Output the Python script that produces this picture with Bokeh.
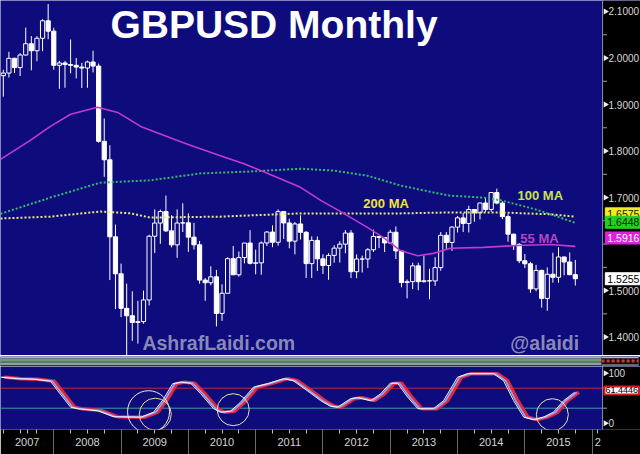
import math
import pandas as pd
from bokeh.plotting import figure
from bokeh.layouts import column
from bokeh.models import (ColumnDataSource, Range1d, FixedTicker, NumeralTickFormatter, Label,
                          Span, BoxAnnotation)
from bokeh.transform import dodge
from bokeh.embed import file_html
from bokeh.resources import INLINE

# ---------------- data (monthly GBPUSD candles, Mar 2007 .. Sep 2015) ----------------
first_month = "2007-03"
opens = [1.9620, 1.9676, 1.9993, 1.9794, 2.0064, 2.0307, 2.0156, 2.0424, 2.0800, 2.0577,
         1.9843, 1.9893, 1.9859, 1.9843, 1.9805, 1.9784, 1.9914, 1.9826, 1.8209, 1.7812, 1.6156, 1.5361,
         1.4619, 1.4459, 1.4315, 1.4333, 1.4799, 1.6169, 1.6452, 1.6700, 1.6284, 1.5983, 1.6453, 1.6457,
         1.6149, 1.5984, 1.5226, 1.5169, 1.5296, 1.4510, 1.4943, 1.5687, 1.5340, 1.5710, 1.6022, 1.5587,
         1.5597, 1.6024, 1.6259, 1.6039, 1.6698, 1.6454, 1.6063, 1.6433, 1.6253, 1.5580, 1.6079, 1.5683,
         1.5540, 1.5757, 1.5913, 1.5999, 1.6237, 1.5406, 1.5679, 1.5679, 1.5878, 1.6164, 1.6143, 1.6024,
         1.6255, 1.5853, 1.5173, 1.5192, 1.5532, 1.5193, 1.5212, 1.5208, 1.5494, 1.6189, 1.6034, 1.6365,
         1.6563, 1.6444, 1.6744, 1.6673, 1.6883, 1.6745, 1.7108, 1.6881, 1.6590, 1.6213, 1.5995, 1.5642,
         1.5577, 1.5037, 1.5434, 1.4832, 1.5351, 1.5286, 1.5723, 1.5615, 1.5343]
highs = [1.9748, 2.0133, 2.0006, 2.0105, 2.0654, 2.0470, 2.0470, 2.0835, 2.1161, 2.0650,
         1.9940, 1.9937, 2.0397, 2.0000, 1.9895, 1.9943, 2.0157, 1.9880, 1.8700, 1.8125, 1.6420, 1.5580,
         1.5150, 1.4985, 1.4780, 1.5000, 1.6200, 1.6745, 1.6742, 1.7043, 1.6620, 1.6745, 1.6877, 1.6661,
         1.6458, 1.6067, 1.5270, 1.5523, 1.5445, 1.5136, 1.5714, 1.5960, 1.5840, 1.6020, 1.6300, 1.5880,
         1.6060, 1.6278, 1.6402, 1.6746, 1.6700, 1.6546, 1.6474, 1.6618, 1.6280, 1.6166, 1.6163, 1.5779,
         1.5805, 1.5975, 1.6060, 1.6300, 1.6300, 1.5778, 1.5752, 1.5913, 1.6310, 1.6173, 1.6150, 1.6308,
         1.6380, 1.5872, 1.5238, 1.5600, 1.5600, 1.5751, 1.5467, 1.5717, 1.6260, 1.6260, 1.6384, 1.6603,
         1.6668, 1.6823, 1.6750, 1.6885, 1.6996, 1.7112, 1.7192, 1.6920, 1.6640, 1.6226, 1.6020, 1.5786,
         1.5620, 1.5552, 1.5450, 1.5498, 1.5815, 1.5930, 1.5730, 1.5820, 1.5659]
lows = [1.9169, 1.9580, 1.9676, 1.9614, 2.0054, 1.9735, 1.9930, 2.0148, 2.0405, 1.9746,
        1.9338, 1.9360, 1.9672, 1.9560, 1.9354, 1.9361, 1.9690, 1.8180, 1.7445, 1.5226, 1.4600, 1.4430,
        1.3503, 1.3920, 1.3860, 1.4290, 1.4680, 1.5806, 1.6005, 1.6260, 1.5930, 1.5705, 1.6260, 1.5833,
        1.5883, 1.5150, 1.4780, 1.5114, 1.4230, 1.4349, 1.4940, 1.5345, 1.5300, 1.5586, 1.5563, 1.5350,
        1.5340, 1.5960, 1.5933, 1.5966, 1.6111, 1.5910, 1.5780, 1.6099, 1.5271, 1.5273, 1.5421, 1.5358,
        1.5233, 1.5600, 1.5604, 1.5804, 1.5269, 1.5267, 1.5390, 1.5487, 1.5830, 1.5913, 1.5828, 1.6000,
        1.5680, 1.5071, 1.4832, 1.5032, 1.5007, 1.5172, 1.4814, 1.5102, 1.5427, 1.5895, 1.5856, 1.6250,
        1.6258, 1.6250, 1.6480, 1.6530, 1.6692, 1.6694, 1.6855, 1.6535, 1.6052, 1.5875, 1.5591, 1.5486,
        1.4952, 1.4986, 1.4634, 1.4566, 1.5170, 1.5170, 1.5330, 1.5330, 1.5108]
closes = [1.9676, 1.9993, 1.9794, 2.0064, 2.0307, 2.0156, 2.0424, 2.0800, 2.0577, 1.9843,
          1.9893, 1.9859, 1.9843, 1.9805, 1.9784, 1.9914, 1.9826, 1.8209, 1.7812, 1.6156, 1.5361, 1.4619,
          1.4459, 1.4315, 1.4333, 1.4799, 1.6169, 1.6452, 1.6700, 1.6284, 1.5983, 1.6453, 1.6457, 1.6149,
          1.5984, 1.5226, 1.5169, 1.5296, 1.4510, 1.4943, 1.5687, 1.5340, 1.5710, 1.6022, 1.5587, 1.5597,
          1.6024, 1.6259, 1.6039, 1.6698, 1.6454, 1.6063, 1.6433, 1.6253, 1.5580, 1.6079, 1.5683, 1.5540,
          1.5757, 1.5913, 1.5999, 1.6237, 1.5406, 1.5679, 1.5679, 1.5878, 1.6164, 1.6143, 1.6024, 1.6255,
          1.5853, 1.5173, 1.5192, 1.5532, 1.5193, 1.5212, 1.5208, 1.5494, 1.6189, 1.6034, 1.6365, 1.6563,
          1.6444, 1.6744, 1.6673, 1.6883, 1.6745, 1.7108, 1.6881, 1.6590, 1.6213, 1.5995, 1.5642, 1.5577,
          1.5037, 1.5434, 1.4832, 1.5351, 1.5286, 1.5723, 1.5615, 1.5343, 1.5255]

# moving averages (x in months since Jan 2007)
ma55_t = [2.5, 7.8, 11.4, 15.0, 19.8, 23.4, 27.5, 35.1, 41.7, 45.8, 48.9, 56.0, 59.6, 63.7, 67.9,
          70.8, 73.8, 76.9, 79.7, 82.7, 88.6, 94.7, 100.6, 105.0]
ma55_v = [1.782, 1.823, 1.853, 1.879, 1.894, 1.883, 1.853, 1.818, 1.790, 1.773, 1.758, 1.722, 1.694,
          1.666, 1.636, 1.614, 1.586, 1.575, 1.580, 1.591, 1.593, 1.597, 1.599, 1.595]
ma100_t = [2.5, 11.4, 20.3, 29.2, 38.2, 47.1, 56.0, 61.9, 67.9, 73.8, 79.7, 82.7, 88.6, 91.7, 97.5,
           100.6, 104.9]
ma100_v = [1.665, 1.700, 1.732, 1.737, 1.752, 1.756, 1.762, 1.758, 1.747, 1.726, 1.711, 1.704, 1.700,
           1.694, 1.676, 1.664, 1.646]
ma200_t = [2.5, 11.4, 20.3, 25.7, 29.2, 41.7, 56.0, 73.8, 82.7, 91.7, 100.6, 104.9]
ma200_v = [1.655, 1.659, 1.670, 1.666, 1.657, 1.659, 1.666, 1.666, 1.668, 1.668, 1.664, 1.659]

# last-value tags
tag_values = [1.6575, 1.6448, 1.5916, 1.5255]
osc_last = 61.4446

# oscillator (stochastic)
osc_t = [2.5, 5.5, 8.4, 11.4, 12.7, 15.0, 16.2, 19.8, 22.6, 27.5, 29.8, 31.6, 33.2, 34.6, 36.4,
         38.2, 40.5, 41.7, 43.5, 45.3, 47.6, 50.1, 53.0, 54.7, 57.2, 59.6, 61.3, 62.6, 64.9, 66.2,
         68.5, 70.3, 72.0, 73.3, 75.1, 76.9, 79.7, 81.5, 84.0, 85.8, 90.4, 92.2, 94.0, 95.8, 97.5,
         99.3, 101.1, 102.9, 104.9]
osc_v = [92, 89, 88, 84, 65, 32, 29, 25, 13, 12, 22, 49, 79, 82, 80, 59, 29, 22, 24, 42, 72, 79, 89,
         85, 65, 45, 34, 32, 49, 51, 45, 59, 80, 80, 52, 29, 29, 45, 92, 99, 99, 85, 45, 12, 7, 12,
         22, 45, 62]
osc_upper, osc_lower = 70, 30
circle_t = [28.9, 30.1, 44.0, 100.9]
circle_v = [23, 18, 27, 17]
circle_d = [42, 32, 32, 32]
circle_c = ["#ececec", "#eadb9a", "#e8e2b0", "#e8e2b0"]

years = ["2007", "2008", "2009", "2010", "2011", "2012", "2013", "2014", "2015", "2"]
price_ticks = [1.4, 1.5, 1.7, 1.8, 1.9, 2.0, 2.1]
price_minor = [1.45, 1.55, 1.6, 1.65, 1.75, 1.85, 1.95, 2.05]
osc_ticks = [0, 100]
osc_minor = [30, 70]

# ---------------- derived / layout ----------------
BG = "#0e0b7c"
FONT = "Liberation Sans"
PX_PER_MONTH = 5.608
FRAME_W = 640
X0 = 2.5
X1 = X0 + FRAME_W / PX_PER_MONTH      # frame also covers the black value strip
XS = 110.0                             # where the value strip begins
XT = 110.35                            # left edge of value tags

dates = pd.date_range(first_month, periods=len(closes), freq="MS")
t = list((dates.year - 2007) * 12 + dates.month)   # candle drawn at month end
src = ColumnDataSource(dict(
    t=t, o=opens, h=highs, l=lows, c=closes,
    top=[max(a, b) for a, b in zip(opens, closes)],
    bot=[min(a, b) for a, b in zip(opens, closes)],
    fill=["#ffffff" if c < o else BG for o, c in zip(opens, closes)],
))
xr = Range1d(X0, X1)


def style_value_axis(ax, ticks):
    ax.ticker = FixedTicker(ticks=ticks, minor_ticks=[])
    ax.major_label_text_font = FONT
    ax.major_label_text_font_size = "10px"
    ax.major_label_text_color = "#d8d8d8"
    ax.major_label_standoff = -32
    ax.major_tick_out = 0
    ax.major_tick_in = 0
    ax.minor_tick_out = 0
    ax.minor_tick_in = 0
    ax.major_tick_line_color = None
    ax.minor_tick_line_color = None
    ax.axis_line_color = None


def value_strip(fig, major, minor):
    fig.add_layout(BoxAnnotation(left=XS, fill_color="black", fill_alpha=1, line_color=None,
                                 level="underlay"))
    fig.add_layout(Span(location=XS - 0.15, dimension="height", line_color="#8a8a8a",
                        line_width=1))
    fig.scatter(x=[XS + 0.38] * len(major), y=major, marker="triangle", angle=-math.pi / 2,
                size=6, fill_color="#eeeeee", line_color=None)
    fig.scatter(x=[XS + 0.3] * len(minor), y=minor, marker="dash", size=4,
                line_color="#a0a0a0", line_width=1)


def tag(fig, y, s, bg, fg, border=None, bw=1, size="10.5px", x=XT, pad=2):
    fig.add_layout(Label(x=x, y=y, text=s, text_font=FONT, text_font_size=size,
                         text_color=fg, text_align="left", text_baseline="middle",
                         background_fill_color=bg, border_line_color=border or bg,
                         border_line_width=bw, padding=pad))


def txt(fig, x, y, s, size, color, alpha=1.0):
    fig.add_layout(Label(x=x, y=y, text=s, text_font=FONT, text_font_size=size,
                         text_font_style="bold", text_color=color, text_align="left",
                         text_baseline="alphabetic", text_alpha=alpha))


# ---------------- price panel ----------------
p = figure(frame_width=FRAME_W, frame_height=355, x_range=xr, y_range=Range1d(1.3605, 2.1236),
           toolbar_location=None, output_backend="svg", x_axis_location=None,
           y_axis_location="right", min_border_left=0, min_border_top=0, min_border_bottom=0,
           min_border_right=0)
p.background_fill_color = BG
p.border_fill_color = "black"
p.outline_line_color = None
p.grid.visible = False
ya = p.yaxis[0]
style_value_axis(ya, price_ticks)
ya.formatter = NumeralTickFormatter(format="0.0000")
value_strip(p, price_ticks, price_minor)

p.segment(x0="t", y0="l", x1="t", y1="h", source=src, line_color="white", line_width=1)
p.vbar(x="t", top="top", bottom="bot", width=0.75, source=src, fill_color="fill",
       line_color="white", line_width=1)

p.line(ma200_t, ma200_v, line_color="#ecea7a", line_width=2, line_dash="2 2")
p.line(ma100_t, ma100_v, line_color="#2fbf6a", line_width=2, line_dash="2 2")
p.line(ma55_t, ma55_v, line_color="#c23ad0", line_width=1.6)

txt(p, 22.1, 2.0725, "GBPUSD Monthly", "39px", "white")
txt(p, 67.2, 1.6872, "200 MA", "13px", "#ece63a")
txt(p, 94.7, 1.7044, "100 MA", "13px", "#c6e44e")
txt(p, 95.2, 1.6127, "55 MA", "13px", "#b248c4")
txt(p, 27.8, 1.3865, "AshrafLaidi.com", "19.5px", "#9a9ac0", alpha=0.9)
txt(p, 93.4, 1.3865, "@alaidi", "19.5px", "#9a9ac0", alpha=0.9)

tag(p, tag_values[0] + 0.0075, f"{tag_values[0]:.4f}", "#f2ee1a", "#202020")
tag(p, tag_values[1] + 0.002, f"{tag_values[1]:.4f}", "#22d022", "#102010")
tag(p, tag_values[2] + 0.0215, f"{tag_values[2]:.4f}", "#e020e0", "white")
tag(p, tag_values[3], f"{tag_values[3]:.4f}", "white", "black")

# ---------------- separator band ----------------
band = figure(width=640, height=11, x_range=Range1d(0, 640), y_range=Range1d(366, 355),
              toolbar_location=None, output_backend="svg", x_axis_location=None,
              y_axis_location=None, min_border=0)
band.background_fill_color = BG
band.border_fill_color = "black"
band.outline_line_color = None
band.grid.visible = False
rows_y0 = [355, 357, 359.5, 361.5, 363.5, 365]
rows_y1 = [357, 359.5, 361.5, 363.5, 365, 366]
rows_c = ["#a7b4a4", "#6f9c70", "#56786f", "#93a09a", "#2a2f6a", BG]
band.quad(left=0, right=603, bottom=rows_y1, top=rows_y0, fill_color=rows_c, line_color=None)
band.quad(left=603, right=640, bottom=366, top=355, fill_color="#0a0a0a", line_color=None)
band.segment(x0=603, x1=640, y0=356, y1=356, line_color="#b8b8b8", line_width=1.5)
band.segment(x0=603, x1=640, y0=359.5, y1=359.5, line_color="#d03838", line_width=3,
             line_dash="3 2")
band.segment(x0=603, x1=640, y0=363.5, y1=363.5, line_color="#8a8a8a", line_width=1.5)

# ---------------- oscillator panel ----------------
q = figure(frame_width=FRAME_W, frame_height=63, x_range=xr, y_range=Range1d(-12.6, 113.4),
           toolbar_location=None, output_backend="svg", y_axis_location="right",
           min_border_left=0, min_border_top=0, min_border_bottom=25, min_border_right=0)
q.background_fill_color = BG
q.border_fill_color = "black"
q.outline_line_color = None
q.grid.visible = False
style_value_axis(q.yaxis[0], osc_ticks)
value_strip(q, osc_ticks, osc_minor)

q.segment(x0=X0, x1=XS - 0.15, y0=osc_upper, y1=osc_upper, line_color="#c4283a", line_width=1)
q.segment(x0=X0, x1=XS - 0.15, y0=osc_lower, y1=osc_lower, line_color="#3f9ea6", line_width=1)
osrc = ColumnDataSource(dict(t=osc_t, v=osc_v))
q.line(x=dodge("t", 0.75), y="v", source=osrc, line_color="#e0283a", line_width=3.4)
q.line(x=dodge("t", 0.35), y="v", source=osrc, line_color="#9c9cf0", line_width=1.8)
q.line(x="t", y="v", source=osrc, line_color="#f4f0f4", line_width=1)
q.scatter(x=circle_t, y=circle_v, size=circle_d, marker="circle", fill_color=None,
          line_color=circle_c, line_width=1)
tag(q, osc_last + 4, f"{osc_last:.4f}", "white", "black", border="#d02020", bw=2,
    size="9px", x=XT - 0.15, pad=1)

# x axis: quarterly ticks, year dividers, year labels centred in the visible part of each year
quarters = [m for m in range(0, 112, 3) if X0 <= m <= XS]
label_pos = []
for i, y in enumerate(years):
    a, b = max(i * 12, X0), min(i * 12 + 12, XS)
    label_pos.append(round((a + b) / 2, 2))
ticks = sorted(set(quarters) | set(label_pos))
overrides = {k: "" for k in ticks}
for pos, s in zip(label_pos, years):
    overrides[pos] = s
xa = q.xaxis[0]
xa.ticker = FixedTicker(ticks=ticks, minor_ticks=[m for m in range(12, 112, 12)])
xa.major_label_overrides = overrides
xa.major_label_text_font = FONT
xa.major_label_text_font_size = "11px"
xa.major_label_text_color = "#d4d4d4"
xa.major_label_standoff = -17
xa.major_tick_out = 4
xa.major_tick_in = 0
xa.major_tick_line_color = "#bdbdbd"
xa.minor_tick_out = 25
xa.minor_tick_in = 0
xa.minor_tick_line_color = "#6a6a6a"
xa.axis_line_color = None

layout = column(p, band, q, spacing=0)
open("out.html", "w").write(file_html(layout, INLINE))
